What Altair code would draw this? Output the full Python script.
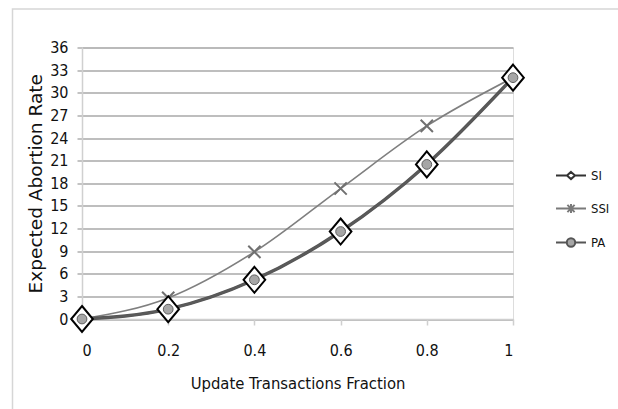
import altair as alt
import pandas as pd

# Fraction of update transactions (x) and expected abortion rate per protocol
fractions = [0.0, 0.2, 0.4, 0.6, 0.8, 1.0]
si_rate = [0.0, 1.3, 5.2, 11.6, 20.5, 32.0]
ssi_rate = [0.0, 2.8, 8.9, 17.3, 25.6, 32.0]
pa_rate = [0.0, 1.3, 5.2, 11.6, 20.5, 32.0]
series_names = ["SI", "SSI", "PA"]
y_ticks = list(range(0, 37, 3))

rows = []
for name, values in zip(series_names, [si_rate, ssi_rate, pa_rate]):
    for f, v in zip(fractions, values):
        rows.append({"series": name, "fraction": f, "rate": v})
df = pd.DataFrame(rows)

NARROW = "Liberation Sans Narrow, DejaVu Sans Condensed, Roboto Condensed, sans-serif"

x_enc = alt.X(
    "fraction:Q",
    scale=alt.Scale(domain=[0, 1], nice=False),
    axis=alt.Axis(
        values=fractions, format="~g", grid=False, title="Update Transactions Fraction",
        domainColor="#cfcfcf", domainWidth=1.5, tickColor="#cfcfcf", tickWidth=1.5,
        tickSize=6, labelPadding=17, labelFont=NARROW, labelFontSize=16,
        labelColor="#111", titleFont=NARROW, titleFontSize=16.5, titleFontWeight="normal",
        titleColor="#111", titlePadding=17,
    ),
)
y_enc = alt.Y(
    "rate:Q",
    scale=alt.Scale(domain=[0, 36], nice=False),
    axis=alt.Axis(
        values=y_ticks, grid=True, gridColor="#a9a9a9", gridWidth=1.4,
        title="Expected Abortion Rate", domainColor="#d0d0d0", domainWidth=1.5,
        tickColor="#a9a9a9", tickWidth=1.4, tickSize=5, labelPadding=9,
        labelFont=NARROW, labelFontSize=16, labelColor="#111",
        titleFont="DejaVu Sans", titleFontSize=18.5, titleFontWeight="normal",
        titleColor="#111", titlePadding=4,
    ),
)

base = alt.Chart(df).encode(x=x_enc, y=y_enc)

def only(name):
    return alt.datum.series == name

# chart border
frame = alt.Chart(df).mark_rect(
    filled=False, stroke="#d6d6d6", strokeWidth=1.5
).encode(
    x=alt.value(-69.5), x2=alt.value(560), y=alt.value(-38.5), y2=alt.value(420)
).transform_filter(alt.datum.fraction == 0).transform_filter(only("SI"))

ssi_line = base.transform_filter(only("SSI")).mark_line(
    interpolate="monotone", color="#7f7f7f", strokeWidth=1.6
)
si_line = base.transform_filter(only("SI")).mark_line(
    interpolate="monotone", color="#555555", strokeWidth=3.4
)
pa_line = base.transform_filter(only("PA")).mark_line(
    interpolate="monotone", color="#5a5a5a", strokeWidth=2
)

ssi_pts = base.transform_filter(only("SSI")).mark_point(
    shape="M-1,-1L1,1M-1,1L1,-1", size=150, stroke="#707070", strokeWidth=2,
    filled=False, opacity=1
)
si_pts = base.transform_filter(only("SI")).mark_point(
    shape="M0,-1.2L1,0L0,1.2L-1,0Z", size=470, fill="white", stroke="black",
    strokeWidth=2, filled=True, opacity=1
)
pa_pts = base.transform_filter(only("PA")).mark_point(
    shape="circle", size=95, fill="#a6a6a6", stroke="#5e5e5e", strokeWidth=1,
    filled=True, opacity=1
)

# legend entries: a short line with the series marker on it
legend_shapes = [
    "M-1,0H-0.27M0.27,0H1M0,-0.24L0.27,0L0,0.24L-0.27,0Z",
    "M-1,0H1M-0.24,-0.24L0.24,0.24M-0.24,0.24L0.24,-0.24M0,-0.3V0.3",
    "M-1,0H-0.28M0.28,0H1M0.28,0A0.28,0.28,0,1,1,-0.28,0A0.28,0.28,0,1,1,0.28,0Z",
]
legend_fills = ["white", "transparent", "#a6a6a6"]
legend_strokes = ["#333333", "#7a7a7a", "#555555"]
legend = alt.Legend(
    title=None, orient="none", legendX=473, legendY=112, direction="vertical",
    symbolSize=900, symbolStrokeWidth=2, symbolOpacity=1, rowPadding=9,
    labelFont=NARROW, labelFontSize=13, labelColor="#111", labelOffset=4,
    padding=0,
)
carrier = base.mark_point(opacity=0, filled=True).encode(
    shape=alt.Shape("series:N", scale=alt.Scale(domain=series_names, range=legend_shapes), legend=legend),
    fill=alt.Fill("series:N", scale=alt.Scale(domain=series_names, range=legend_fills), legend=legend),
    stroke=alt.Stroke("series:N", scale=alt.Scale(domain=series_names, range=legend_strokes), legend=legend),
)

chart = alt.layer(
    frame, ssi_line, si_line, pa_line, ssi_pts, si_pts, pa_pts, carrier
).properties(
    width=431, height=271.5,
    autosize=alt.AutoSizeParams(type="none"),
    padding={"left": 82, "top": 47.5, "right": 105, "bottom": 90},
).configure_view(stroke=None).configure(background="white")

chart.save("out.html", embed_options={"renderer": "svg", "actions": False})
